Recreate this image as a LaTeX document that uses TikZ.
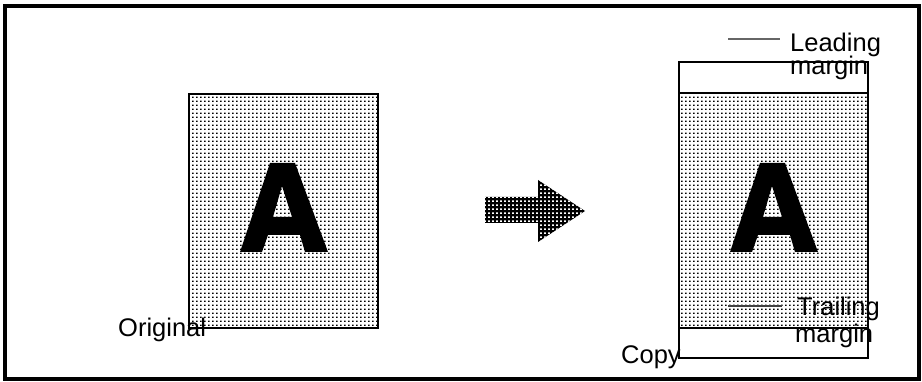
\documentclass[tikz,border=0pt]{standalone}
\usepackage{fontspec}
\setmainfont{Liberation Sans}
\usetikzlibrary{patterns.meta}
\tikzdeclarepattern{
  name=pagedots,
  type=uncolored,
  bounding box={(0pt,0pt) and (4.4pt,4.4pt)},
  tile size={(4.4pt,4.4pt)},
  code={\pgfpathrectangle{\pgfpoint{0pt}{0pt}}{\pgfpoint{1.8pt}{1.7pt}}\pgfusepath{fill}}
}
\tikzdeclarepattern{
  name=arrowdots,
  type=uncolored,
  bounding box={(0pt,0pt) and (4.4pt,4.4pt)},
  tile size={(4.4pt,4.4pt)},
  code={\pgfpathrectangle{\pgfpoint{0pt}{0pt}}{\pgfpoint{2pt}{1.8pt}}\pgfusepath{fill}}
}
\tikzset{
  frame/.style={line width=4pt, draw=black},
  sheet/.style={line width=2.8pt, draw=black},
  dotted area/.style={pattern=pagedots, pattern color=black},
  label text/.style={font=\fontsize{25.5}{28}\selectfont, inner sep=0pt, anchor=base west},
  leader/.style={line width=1.2pt, draw=black!60},
  letter/.style={fill=black, even odd rule}
}
\newcommand{\bigA}[1]{%
  \fill[letter, xshift=#1pt] (240,252) -- (270,163) -- (295,163) -- (328,252) -- (305,252)
    -- (300,235) -- (268,235) -- (262,252) -- cycle
    (282,186) -- (292,217) -- (273,217) -- cycle;}
\begin{document}
\begin{tikzpicture}[x=1pt, y=-1pt]
\useasboundingbox (0,0) rectangle (922,382);
% outer frame
\draw[frame] (5,6) rectangle (919,379);
% original sheet
\fill[dotted area] (189,94) rectangle (378,328);
\bigA{0}
\draw[sheet] (189,94) rectangle (378,328);
% arrow
\fill[black] (485,197) -- (538,197) -- (538,180) -- (585,211) -- (538,242) -- (538,223) -- (485,223) -- cycle;
\fill[pattern=arrowdots, pattern color=white] (485,197) -- (538,197) -- (538,180) -- (585,211) -- (538,242) -- (538,223) -- (485,223) -- cycle;
% copy sheet
\fill[white] (679,62) rectangle (868,358);
\fill[dotted area] (679,93) rectangle (868,328);
\bigA{490}
\draw[sheet] (679,62) rectangle (868,358);
\draw[sheet] (679,93) -- (868,93);
\draw[sheet] (679,328) -- (868,328);
% leader lines
\coordinate (l1) at (728,39);
\coordinate (l2) at (780,39);
\coordinate (t1) at (728,306);
\coordinate (t2) at (782,306);
\draw[leader] (l1) -- (l2);
\draw[leader, draw=black!75] (t1) -- (t2);
% texts
\node[label text] (orig) at (118,337) {Original};
\node[label text] (copy) at (621,363) {Copy};
\node[label text] (lead1) at (790,52) {Leading};
\node[label text] (lead2) at (790,75) {margin};
\node[label text] (trail1) at (797,316) {Trailing};
\node[label text] (trail2) at (795,343) {margin};
\end{tikzpicture}
\end{document}
